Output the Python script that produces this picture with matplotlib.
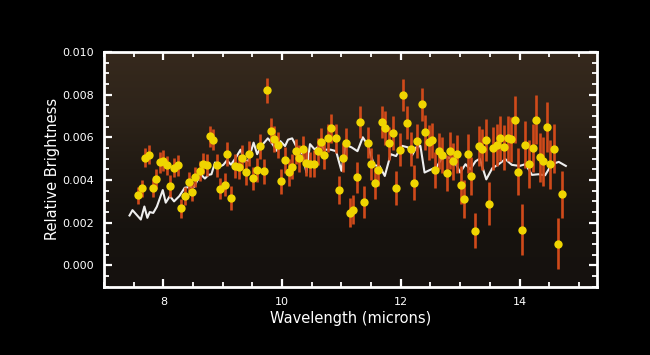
import numpy as np
import matplotlib
matplotlib.use("Agg")
import matplotlib.pyplot as plt
from matplotlib.ticker import MultipleLocator, FormatStrFormatter
from matplotlib.colors import LinearSegmentedColormap

# Observed data (wavelength in microns, relative brightness, error)
wavelength = [7.57, 7.64, 7.69, 7.76, 7.82, 7.87, 7.94, 8.00, 8.06, 8.12,
              8.18, 8.24, 8.30, 8.36, 8.43, 8.48, 8.54, 8.61, 8.66, 8.73,
              8.78, 8.84, 8.91, 8.96, 9.03, 9.08, 9.14, 9.21, 9.27, 9.33,
              9.39, 9.44, 9.51, 9.57, 9.63, 9.69, 9.75, 9.81, 9.87, 9.93,
              9.99, 10.05, 10.11, 10.17, 10.23, 10.29, 10.35, 10.41, 10.47, 10.53,
              10.60, 10.66, 10.71, 10.78, 10.83, 10.90, 10.96, 11.02, 11.08, 11.14,
              11.20, 11.26, 11.32, 11.38, 11.44, 11.50, 11.56, 11.62, 11.68, 11.74,
              11.80, 11.87, 11.92, 11.98, 12.04, 12.10, 12.17, 12.22, 12.28, 12.35,
              12.40, 12.47, 12.52, 12.58, 12.65, 12.70, 12.77, 12.83, 12.88, 12.95,
              13.01, 13.07, 13.13, 13.19, 13.25, 13.31, 13.37, 13.44, 13.49, 13.55,
              13.62, 13.67, 13.74, 13.80, 13.85, 13.92, 13.98, 14.04, 14.10, 14.16,
              14.23, 14.28, 14.34, 14.40, 14.46, 14.52, 14.58, 14.64, 14.71]
brightness = [0.00328, 0.00361, 0.00504, 0.00518, 0.00361, 0.00405, 0.00482, 0.00491, 0.00469, 0.00372,
              0.00458, 0.00468, 0.00267, 0.00325, 0.00392, 0.00345, 0.00413, 0.00443, 0.00477, 0.00471,
              0.00604, 0.00589, 0.00469, 0.00360, 0.00378, 0.00521, 0.00316, 0.00465, 0.00462, 0.00504,
              0.00436, 0.00523, 0.00408, 0.00447, 0.00557, 0.00441, 0.00819, 0.00631, 0.00592, 0.00565,
              0.00394, 0.00493, 0.00436, 0.00463, 0.00534, 0.00501, 0.00546, 0.00479, 0.00473, 0.00477,
              0.00534, 0.00579, 0.00518, 0.00597, 0.00642, 0.00595, 0.00355, 0.00504, 0.00573, 0.00246,
              0.00262, 0.00413, 0.00672, 0.00297, 0.00575, 0.00473, 0.00388, 0.00447, 0.00672, 0.00644,
              0.00571, 0.00620, 0.00361, 0.00542, 0.00799, 0.00669, 0.00546, 0.00388, 0.00582, 0.00755,
              0.00623, 0.00576, 0.00586, 0.00446, 0.00537, 0.00518, 0.00433, 0.00538, 0.00487, 0.00523,
              0.00377, 0.00312, 0.00524, 0.00419, 0.00163, 0.00560, 0.00543, 0.00589, 0.00290, 0.00549,
              0.00564, 0.00595, 0.00553, 0.00595, 0.00590, 0.00683, 0.00438, 0.00168, 0.00564, 0.00474,
              0.00548, 0.00683, 0.00507, 0.00487, 0.00648, 0.00473, 0.00546, 0.00102, 0.00333]
error = [0.00040, 0.00040, 0.00045, 0.00045, 0.00042, 0.00045, 0.00048, 0.00048, 0.00045, 0.00050,
         0.00045, 0.00048, 0.00045, 0.00040, 0.00045, 0.00045, 0.00048, 0.00048, 0.00050, 0.00050,
         0.00050, 0.00050, 0.00055, 0.00050, 0.00055, 0.00055, 0.00055, 0.00055, 0.00055, 0.00058,
         0.00058, 0.00058, 0.00055, 0.00058, 0.00060, 0.00058, 0.00058, 0.00060, 0.00060, 0.00060,
         0.00058, 0.00060, 0.00062, 0.00060, 0.00060, 0.00062, 0.00062, 0.00062, 0.00060, 0.00062,
         0.00062, 0.00065, 0.00065, 0.00065, 0.00068, 0.00068, 0.00065, 0.00068, 0.00070, 0.00068,
         0.00070, 0.00072, 0.00075, 0.00075, 0.00072, 0.00075, 0.00075, 0.00075, 0.00075, 0.00078,
         0.00078, 0.00078, 0.00080, 0.00078, 0.00075, 0.00078, 0.00080, 0.00080, 0.00080, 0.00078,
         0.00082, 0.00082, 0.00082, 0.00085, 0.00085, 0.00085, 0.00085, 0.00088, 0.00088, 0.00088,
         0.00088, 0.00090, 0.00090, 0.00090, 0.00083, 0.00095, 0.00095, 0.00098, 0.00100, 0.00100,
         0.00100, 0.00105, 0.00105, 0.00105, 0.00105, 0.00110, 0.00110, 0.00120, 0.00110, 0.00112,
         0.00112, 0.00115, 0.00115, 0.00115, 0.00115, 0.00115, 0.00115, 0.00120, 0.00110]

# Model curve (white line)
model_wl = [7.43, 7.48, 7.62, 7.68, 7.73, 7.77, 7.83, 7.89, 7.99, 8.04,
            8.11, 8.18, 8.27, 8.36, 8.45, 8.52, 8.57, 8.64, 8.70, 8.76,
            8.81, 8.87, 8.93, 9.01, 9.07, 9.14, 9.21, 9.30, 9.37, 9.43,
            9.52, 9.58, 9.65, 9.76, 9.82, 9.91, 9.97, 10.05, 10.10, 10.17,
            10.25, 10.29, 10.34, 10.41, 10.47, 10.55, 10.65, 10.72, 10.82, 10.91,
            11.00, 11.07, 11.17, 11.27, 11.36, 11.44, 11.55, 11.64, 11.73, 11.83,
            11.92, 12.02, 12.12, 12.19, 12.26, 12.33, 12.40, 12.49, 12.60, 12.70,
            12.77, 12.88, 13.00, 13.09, 13.17, 13.26, 13.33, 13.44, 13.54, 13.65,
            13.76, 13.87, 14.00, 14.10, 14.21, 14.32, 14.43, 14.54, 14.66, 14.78]
model_br = [0.00234, 0.00259, 0.00215, 0.00276, 0.00223, 0.00250, 0.00246, 0.00275, 0.00353, 0.00294,
            0.00325, 0.00300, 0.00325, 0.00364, 0.00367, 0.00368, 0.00397, 0.00424, 0.00407, 0.00424,
            0.00427, 0.00482, 0.00460, 0.00471, 0.00492, 0.00472, 0.00500, 0.00542, 0.00487, 0.00490,
            0.00575, 0.00521, 0.00559, 0.00595, 0.00576, 0.00537, 0.00582, 0.00559, 0.00589, 0.00595,
            0.00551, 0.00520, 0.00531, 0.00435, 0.00568, 0.00543, 0.00565, 0.00542, 0.00542, 0.00535,
            0.00443, 0.00565, 0.00553, 0.00535, 0.00600, 0.00565, 0.00469, 0.00466, 0.00419, 0.00521,
            0.00512, 0.00560, 0.00553, 0.00516, 0.00553, 0.00560, 0.00435, 0.00447, 0.00460, 0.00505,
            0.00506, 0.00501, 0.00435, 0.00474, 0.00450, 0.00488, 0.00500, 0.00403, 0.00455, 0.00474,
            0.00498, 0.00471, 0.00466, 0.00474, 0.00424, 0.00427, 0.00422, 0.00473, 0.00485, 0.00466]

x_ticks = [8, 10, 12, 14]
y_ticks = [0.000, 0.002, 0.004, 0.006, 0.008, 0.010]

fig = plt.figure(figsize=(6.5, 3.55), dpi=100, facecolor="black")
ax = fig.add_axes([0.160, 0.192, 0.758, 0.662])
ax.set_facecolor("#1a1511")

# Background gradient of the plot area
cmap = LinearSegmentedColormap.from_list(
    "bg", ["#15110e", "#17130f", "#211a13", "#2e241a", "#36291d"])
grad = np.linspace(0, 1, 256).reshape(-1, 1)
ax.imshow(grad, cmap=cmap, aspect="auto", origin="lower",
          extent=[0, 1, 0, 1], transform=ax.transAxes, zorder=0,
          interpolation="bicubic")

ax.plot(model_wl, model_br, color="#eeeeee", lw=1.5, zorder=2)
ax.errorbar(wavelength, brightness, yerr=error, fmt="none",
            ecolor="#d04a1a", elinewidth=1.9, capsize=0, zorder=3)
ax.plot(wavelength, brightness, "o", color="#efd500", markersize=6,
        markeredgewidth=0, zorder=4)

ax.set_xlim(7.0, 15.3)
ax.set_ylim(-0.001, 0.010)
ax.set_xticks(x_ticks)
ax.set_yticks(y_ticks)
ax.xaxis.set_minor_locator(MultipleLocator(0.5))
ax.yaxis.set_minor_locator(MultipleLocator(0.0005))
ax.yaxis.set_major_formatter(FormatStrFormatter("%.3f"))
ax.xaxis.set_major_formatter(FormatStrFormatter("%d"))

for s in ax.spines.values():
    s.set_color("white")
    s.set_linewidth(2)

ax.tick_params(which="both", direction="in", colors="white",
               top=True, right=True, labelsize=8)
ax.tick_params(which="major", length=6, width=1.6, pad=7)
ax.tick_params(which="minor", length=3.5, width=1.3)

ax.set_xlabel("Wavelength (microns)", color="white", fontsize=10.5, labelpad=3)
ax.set_ylabel("Relative Brightness", color="white", fontsize=10.5, labelpad=2)

fig.savefig("out.png", dpi=100, facecolor="black")
